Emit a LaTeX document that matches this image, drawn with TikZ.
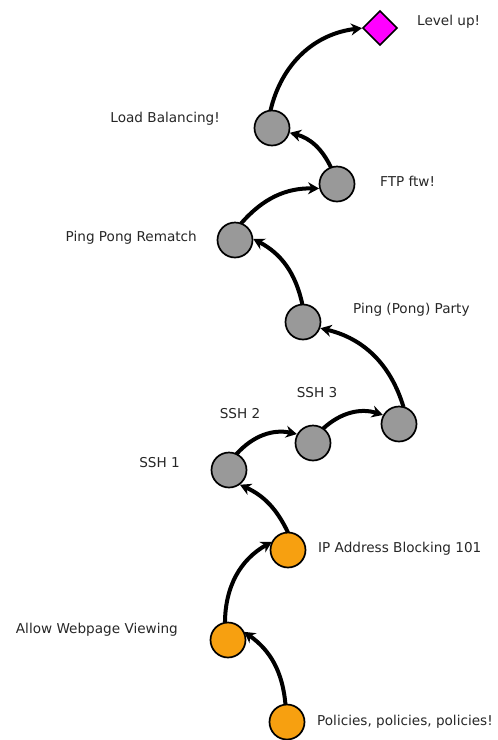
\documentclass[tikz,border=0pt]{standalone}
\usepackage{fontspec}
\setmainfont{DejaVu Sans}
\usetikzlibrary{arrows.meta,shapes.geometric}
\definecolor{stepgray}{HTML}{999999}
\definecolor{steporange}{HTML}{F7A010}
\definecolor{stepmag}{HTML}{FF00FF}
\tikzset{
  stepnode/.style={circle,draw=black,line width=1.7pt,minimum size=35pt,inner sep=0pt,outer sep=0pt},
  graynode/.style={stepnode,fill=stepgray},
  orangenode/.style={stepnode,fill=steporange},
  goalnode/.style={diamond,draw=black,line width=1.7pt,fill=stepmag,minimum size=34pt,inner sep=0pt,outer sep=0pt},
  lbl/.style={font=\fontsize{13.6}{16}\selectfont,inner sep=0pt,text=black!85},
  arr/.style={line width=4pt,-{Stealth[length=11pt,width=12pt]},shorten >=1pt}
}
\begin{document}
\begin{tikzpicture}[x=1pt,y=-1pt]
\useasboundingbox (0,0) rectangle (498,740);
% nodes
\node[orangenode] (pol) at (287,722) {};
\node[orangenode] (allow) at (228,640) {};
\node[orangenode] (ip) at (288,550) {};
\node[graynode] (ssh1) at (229,470) {};
\node[graynode] (ssh2) at (313,443) {};
\node[graynode] (ssh3) at (399,424) {};
\node[graynode] (party) at (303,322) {};
\node[graynode] (rematch) at (235,240) {};
\node[graynode] (ftp) at (337,184) {};
\node[graynode] (load) at (272,128) {};
\node[goalnode] (lvl) at (380,28) {};
% labels
\node[lbl,anchor=west] (tpol) at (317,722) {Policies, policies, policies!};
\node[lbl,anchor=east] (tallow) at (178,630) {Allow Webpage Viewing};
\node[lbl,anchor=west] (tip) at (318,549) {IP Address Blocking 101};
\node[lbl,anchor=east] (tssh1) at (180,463) {SSH 1};
\node[lbl] (tssh2) at (240,414) {SSH 2};
\node[lbl] (tssh3) at (317,393) {SSH 3};
\node[lbl,anchor=west] (tparty) at (353,310) {Ping (Pong) Party};
\node[lbl,anchor=east] (trematch) at (197,238) {Ping Pong Rematch};
\node[lbl,anchor=west] (tftp) at (380,181) {FTP ftw!};
\node[lbl,anchor=east] (tload) at (220,119) {Load Balancing!};
\node[lbl,anchor=west] (tlvl) at (417,22) {Level up!};
% connectors
\draw[arr] (pol.95) to[bend right=25] (allow.30);
\draw[arr] (allow.100) to[bend left=30] (ip.150);
\draw[arr] (ip.90) to[bend right=20] (ssh1.-55);
\draw[arr] (ssh1.65) to[bend left=30] (ssh2.150);
\draw[arr] (ssh2.55) to[bend left=30] (ssh3.150);
\draw[arr] (ssh3.75) to[bend right=30] (party.-20);
\draw[arr] (party.92) to[bend right=25] (rematch.5);
\draw[arr] (rematch.70) to[bend left=25] (ftp.195);
\draw[arr] (ftp.110) to[bend right=25] (load.-15);
\draw[arr] (load.95) to[bend left=35] (lvl.west);
\end{tikzpicture}
\end{document}
